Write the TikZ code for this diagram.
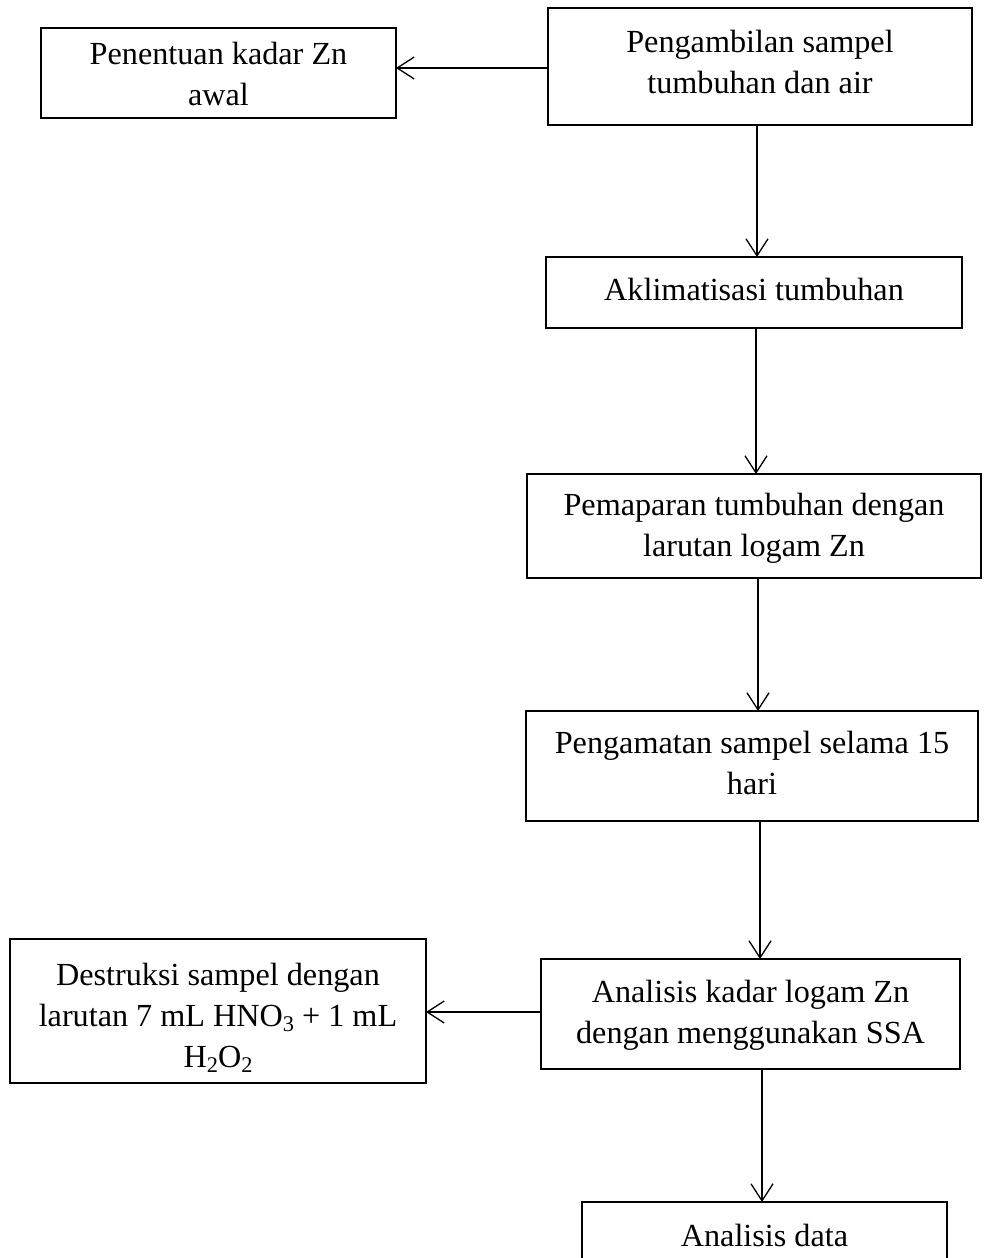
\documentclass[tikz,border=0pt]{standalone}
\usepackage{fontspec}
\setmainfont{Liberation Serif}
\usetikzlibrary{arrows.meta}
\newcommand\lowidx[1]{\raisebox{-0.15em}{\fontsize{22.4}{22.4}\selectfont #1}}
\begin{document}
\begin{tikzpicture}[x=1pt,y=-1pt,
  box/.style={draw, line width=1.3pt, inner sep=0pt, outer sep=0pt, anchor=north west},
  txt/.style={anchor=north, align=center, inner sep=0pt, font=\fontsize{32.2}{41}\selectfont},
  arr/.style={line width=1.3pt, -{Straight Barb[length=17pt,width=22pt,line width=1.3pt]}}]
\useasboundingbox (0,0) rectangle (987,1258);
\clip (0,0) rectangle (987,1258);
% boxes
\node[box, minimum width=355pt, minimum height=90pt]  (b1) at (41,28) {};
\node[box, minimum width=424pt, minimum height=117pt] (b2) at (548,8) {};
\node[box, minimum width=416pt, minimum height=71pt]  (b3) at (546,257) {};
\node[box, minimum width=454pt, minimum height=104pt] (b4) at (527,474) {};
\node[box, minimum width=452pt, minimum height=110pt] (b5) at (526,711) {};
\node[box, minimum width=416pt, minimum height=144pt] (b6) at (10,939) {};
\node[box, minimum width=419pt, minimum height=110pt] (b7) at (541,959) {};
\node[box, minimum width=365pt, minimum height=100pt] (b8) at (582,1202) {};
% texts
\node[txt] (t1) at (218.5,35.3) {\strut Penentuan kadar Zn\\\strut awal};
\node[txt] (t2) at (760,23.3) {\strut Pengambilan sampel\\\strut tumbuhan dan air};
\node[txt] (t3) at (754,271.3) {\strut Aklimatisasi tumbuhan};
\node[txt] (t4) at (754,486.3) {\strut Pemaparan tumbuhan dengan\\\strut larutan logam Zn};
\node[txt] (t5) at (752,724.3) {\strut Pengamatan sampel selama 15\\\strut hari};
\node[txt] (t6) at (218,956.3) {\strut Destruksi sampel dengan\\\strut larutan 7 mL HNO\lowidx{3} + 1 mL\\\strut H\lowidx{2}O\lowidx{2}};
\node[txt] (t7) at (750.5,973.3) {\strut Analisis kadar logam Zn\\\strut dengan menggunakan SSA};
\node[txt] (t8) at (764.5,1217.3) {\strut Analisis data};
% connectors
\draw[arr] (b2.west |- 0,68) -- (b1.east |- 0,68);
\draw[arr] (b2.south -| 757,0) -- (b3.north -| 757,0);
\draw[arr] (b3.south -| 756,0) -- (b4.north -| 756,0);
\draw[arr] (b4.south -| 758,0) -- (b5.north -| 758,0);
\draw[arr] (b5.south -| 760,0) -- (b7.north -| 760,0);
\draw[arr] (b7.west |- 0,1012) -- (b6.east |- 0,1012);
\draw[arr] (b7.south -| 762,0) -- (b8.north -| 762,0);
\end{tikzpicture}
\end{document}
